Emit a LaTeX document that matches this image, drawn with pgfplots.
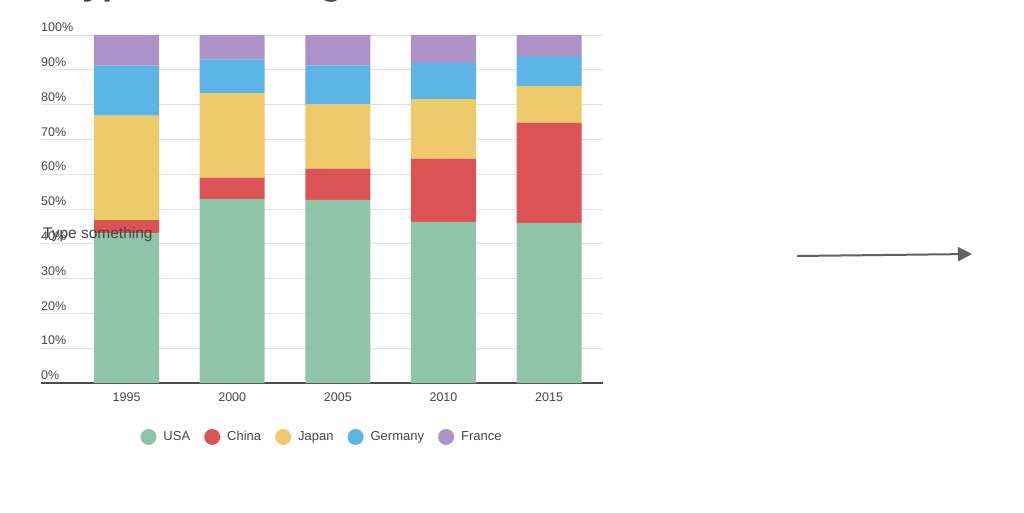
\documentclass[border=0pt]{standalone}
\usepackage{pgfplots}
\pgfplotsset{compat=1.18}
\usepackage{pgfplotstable}
\usepackage{fontspec}
\setmainfont{Liberation Sans}
\usetikzlibrary{arrows.meta}

\definecolor{cusa}{HTML}{8FC4A8}
\definecolor{cchina}{HTML}{DC5356}
\definecolor{cjapan}{HTML}{EFCA6A}
\definecolor{cgermany}{HTML}{5DB5E5}
\definecolor{cfrance}{HTML}{AD92C8}
\definecolor{txt}{HTML}{454545}

% share of each country, percent
\pgfplotstableread{
x  USA   China Japan Germany France
0  43.0  3.8   30.0  14.4    8.8
1  52.9  6.1   24.3  9.7     7.0
2  52.6  9.0   18.5  11.2    8.7
3  46.3  18.2  17.1  10.3    8.1
4  46.0  28.8  10.5  8.6     6.1
}\shares

\begin{document}
\begin{tikzpicture}[x=1pt,y=1pt]
\useasboundingbox (0,0) rectangle (1024,512);
% title, mostly cut off by the page edge
\node[anchor=base west,inner sep=0pt,text=txt,font=\fontsize{37}{40}\selectfont\bfseries] at (62,517) {Type something};

\begin{axis}[
  at={(41pt,129pt)}, anchor=south west,
  scale only axis, width=562pt, height=348pt,
  ybar stacked, bar width=65pt,
  xmin=-0.81, xmax=4.51, ymin=0, ymax=100,
  xtick=data, xticklabels={1995,2000,2005,2010,2015},
  ytick={0,10,...,100},
  yticklabel={\pgfmathprintnumber{\tick}\%},
  /pgf/number format/assume math mode=true,
  major tick length=0pt,
  ymajorgrids, grid style={draw=black!12, line width=0.8pt},
  separate axis lines,
  axis x line*=bottom, axis y line*=left,
  x axis line style={draw=black!70, line width=2pt, -},
  y axis line style={draw=none},
  tick label style={text=txt, font=\fontsize{12.5}{14}\selectfont},
  yticklabel style={anchor=south west, inner sep=0pt, yshift=3pt},
  xticklabel style={yshift=-6pt},
  legend style={at={(0.5,-0.155)}, anchor=center, draw=none, fill=none,
    legend columns=-1, font=\fontsize{13}{15}\selectfont, text=txt,
    /tikz/every even column/.append style={column sep=12pt}},
  legend image code/.code={\fill[#1,draw=none] (8pt,0pt) circle (8pt);
    \path (0pt,0pt) -- (21pt,0pt);},
  every axis plot/.append style={draw=none},
]
\addplot[fill=cusa] table[x=x,y=USA] {\shares};
\addplot[fill=cchina] table[x=x,y=China] {\shares};
\addplot[fill=cjapan] table[x=x,y=Japan] {\shares};
\addplot[fill=cgermany] table[x=x,y=Germany] {\shares};
\addplot[fill=cfrance] table[x=x,y=France] {\shares};
\legend{USA,China,Japan,Germany,France}
\end{axis}

% text box left on the chart
\node[anchor=west,inner sep=0pt,text=txt,font=\fontsize{15.5}{17}\selectfont] at (43,278) {Type something};
% arrow
\draw[draw=black!62, line width=2pt, -{Triangle[length=14pt,width=14pt]}] (797,256) -- (972,258);
\end{tikzpicture}
\end{document}
